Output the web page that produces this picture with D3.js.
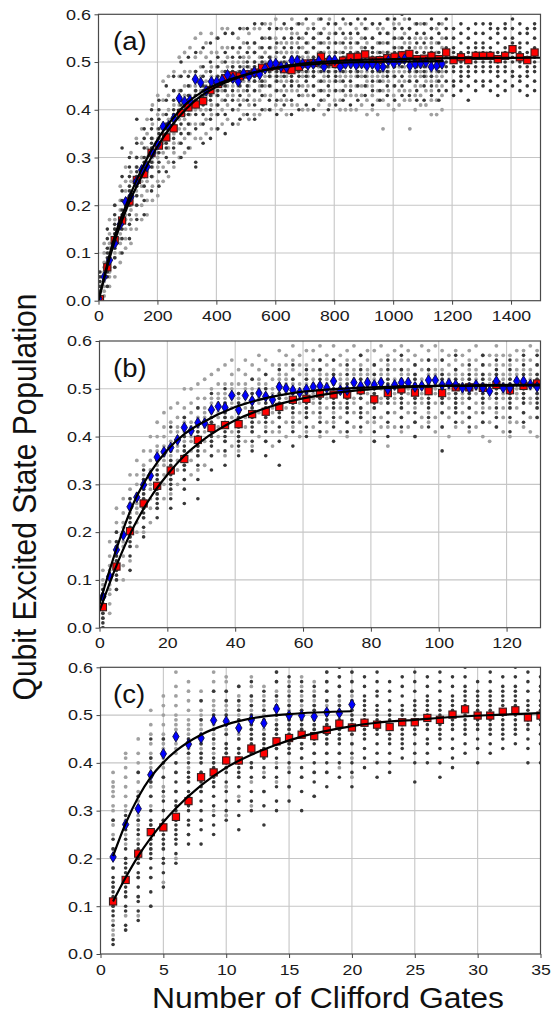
<!DOCTYPE html>
<html>
<head>
<meta charset="utf-8">
<script src="https://cdn.jsdelivr.net/npm/d3@7"></script>
<style>
  body { margin: 0; background: #fff; }
</style>
</head>
<body>
<div id="chart"></div>
<script>
// ---------- data ----------
// y values of the averaged points; x positions are the sequence lengths
const yTicks = [0, 0.1, 0.2, 0.3, 0.4, 0.5, 0.6];

// panel (a)
const aXTicks = [0, 200, 400, 600, 800, 1000, 1200, 1400];
const aRedX = d3.range(5, 1500, 25);
const aRed = [0.003, 0.070, 0.127, 0.168, 0.208, 0.253, 0.265, 0.310, 0.325, 0.342,
  0.361, 0.393, 0.405, 0.411, 0.418, 0.441, 0.454, 0.466, 0.472, 0.470,
  0.474, 0.478, 0.488, 0.490, 0.492, 0.485, 0.483, 0.490, 0.497, 0.498,
  0.511, 0.500, 0.496, 0.503, 0.510, 0.511, 0.516, 0.503, 0.504, 0.508,
  0.511, 0.514, 0.517, 0.506, 0.507, 0.513, 0.506, 0.520, 0.504, 0.510,
  0.504, 0.513, 0.513, 0.513, 0.506, 0.513, 0.527, 0.510, 0.504, 0.520];
const aBlueX = d3.range(65).map(k => 1 + 18.2 * k);
const aBlue = [0.005, 0.050, 0.085, 0.120, 0.160, 0.207, 0.218, 0.249, 0.274, 0.281,
  0.310, 0.328, 0.365, 0.366, 0.382, 0.424, 0.417, 0.420, 0.464, 0.457,
  0.440, 0.459, 0.459, 0.462, 0.473, 0.466, 0.459, 0.476, 0.471, 0.479,
  0.474, 0.486, 0.496, 0.497, 0.490, 0.489, 0.503, 0.503, 0.496, 0.494,
  0.496, 0.502, 0.490, 0.504, 0.504, 0.490, 0.496, 0.497, 0.494, 0.497,
  0.492, 0.496, 0.490, 0.490, 0.503, 0.497, 0.502, 0.506, 0.492, 0.496,
  0.497, 0.4995, 0.490, 0.492, 0.496];
const aRedFitX = [0, 25, 50, 100, 150, 200, 250, 300, 350, 400, 500, 600, 700, 800, 1000, 1200, 1500];
const aRedFitY = [0, 0.06, 0.115, 0.2, 0.265, 0.323, 0.368, 0.403, 0.43, 0.448, 0.473, 0.488, 0.497, 0.502, 0.506, 0.508, 0.509];
const aBlueFitX = [0, 25, 50, 100, 150, 200, 250, 300, 350, 400, 500, 600, 700, 800, 1000, 1170];
const aBlueFitY = [0, 0.065, 0.125, 0.21, 0.28, 0.337, 0.38, 0.414, 0.437, 0.453, 0.474, 0.487, 0.494, 0.498, 0.501, 0.502];
// single sequences, in hundredths, one string per column
const aDark = [
  "0 1 2 3 4 5 6", "3 5 6 7 8 9 10 11 13 15", "7 9 11 12 13 14 15 16 18 20",
  "10 13 15 16 17 18 19 21 23 26 32", "13 16 18 20 21 22 23 24 26 28 30",
  "17 20 22 24 25 26 27 28 30 33 38", "18 21 24 26 27 28 29 30 32 34 36",
  "23 26 28 29 31 32 33 34 36 38 40", "24 27 29 31 33 34 35 36 38 40 42",
  "27 30 32 33 34 35 36 37 39 42 45", "29 32 34 36 37 38 39 40 42 44 47",
  "30 33 35 37 39 40 41 42 44 47 50", "32 35 37 39 40 41 42 43 45 47 51",
  "28 29 36 39 41 42 43 44 46 48 52", "33 37 39 41 42 43 44 45 47 49 53",
  "34 38 40 42 43 44 45 46 48 50 54", "36 39 41 43 44 45 46 47 49 51 55",
  "35 39 42 44 45 46 47 48 50 52 56", "37 40 42 44 46 47 48 49 51 53 56",
  "38 41 43 45 46 47 48 49 51 53 57", "39 42 44 45 47 48 49 50 52 54 57",
  "38 41 44 46 47 48 49 50 52 54 58", "40 43 45 46 48 49 50 51 53 55 58",
  "40 42 45 47 48 49 50 51 53 55 57", "39 42 44 46 47 48 49 50 52 54 57",
  "41 43 45 47 48 49 50 51 53 55 58", "39 42 45 46 47 48 49 51 53 55 57",
  "40 43 45 47 48 49 50 51 53 55 58", "41 44 46 47 48 49 50 52 54 56 59",
  "40 43 45 47 48 49 50 51 53 55 57", "42 44 46 48 49 50 51 52 54 56 59",
  "40 43 45 47 48 49 50 51 53 55 58", "41 44 46 47 48 49 50 52 54 56 58",
  "42 44 46 48 49 50 51 52 54 56 59", "41 44 46 48 49 50 51 52 54 56 58",
  "42 45 47 48 49 50 51 52 54 56 59", "43 45 47 49 50 51 52 53 55 57 59",
  "41 44 46 48 49 50 51 52 53 55 58", "42 44 46 48 49 50 51 52 54 56 58",
  "43 45 47 48 49 50 51 52 54 56 59", "42 45 47 49 50 51 52 53 55 57 59",
  "43 45 47 49 50 51 52 53 55 57 60", "43 46 48 49 50 51 52 53 55 57 59",
  "42 44 46 48 49 50 51 52 54 56 58", "42 45 47 48 49 50 51 52 54 56 58",
  "43 45 47 49 50 51 52 53 55 57 59", "42 44 46 48 49 50 51 52 54 56 58",
  "44 46 48 49 50 51 52 53 55 57 59", "43 45 46 48 49 50 51 52 53 55 57",
  "44 46 47 48 49 50 51 52 54 56 58", "42 45 47 48 49 50 51 52 53 55 57",
  "44 46 48 49 50 51 52 53 54 56 58", "45 46 48 49 50 51 52 53 54 56 58",
  "44 46 48 49 50 51 52 53 55 57 58", "43 45 47 48 49 50 51 52 54 56 57",
  "44 46 48 49 50 51 52 53 55 57 58", "45 47 48 50 51 52 53 54 55 57 59",
  "44 46 47 49 50 51 52 53 54 56 58", "43 45 47 48 49 50 51 52 54 56 57",
  "44 46 48 49 50 51 52 53 55 57 58"];
const aLight = [
  "0 1 2 3 4 5 6", "1 2 3 4 5 6 7 8 10 12", "3 5 6 7 8 9 10 11 12 14 17",
  "5 7 9 10 11 12 13 14 15 17 20", "8 10 12 13 14 15 16 17 19 21 24",
  "11 13 15 17 18 19 20 21 23 25 28", "12 15 17 19 20 21 22 23 25 27 31",
  "15 18 20 22 23 24 25 26 28 30 34", "17 20 22 24 25 26 27 28 30 33 36",
  "18 21 23 25 27 28 29 30 32 35 38", "21 24 26 28 29 30 31 32 34 37 41",
  "22 25 28 30 31 32 33 34 36 39 43", "25 28 31 33 34 35 36 37 39 42 46",
  "26 29 32 34 35 36 37 38 40 43 47", "28 31 33 35 36 37 38 39 41 44 48",
  "30 33 36 38 39 40 41 42 44 47 51", "31 34 36 38 39 40 41 43 45 48 52",
  "32 35 37 39 40 41 42 43 45 48 53", "34 37 40 42 43 44 45 46 48 51 55",
  "34 37 40 42 43 44 45 47 49 52 56", "35 38 40 42 43 44 45 46 48 51 54",
  "36 39 41 43 44 45 46 47 49 52 56", "36 39 41 43 44 45 46 47 49 52 55",
  "37 40 42 44 45 46 47 48 50 53 57", "38 41 43 45 46 47 48 49 51 53 57",
  "37 40 43 45 46 47 48 49 50 53 56", "37 40 42 44 45 46 47 48 50 52 55",
  "39 42 44 46 47 48 49 50 51 54 57", "38 41 43 45 46 47 48 49 51 53 56",
  "39 42 44 46 47 48 49 50 52 54 57", "39 42 44 45 46 47 48 49 51 53 57",
  "40 43 45 46 47 48 49 50 52 55 58",
  "40 43 45 47 48 49 50 51 53 55 58", "41 44 46 47 48 49 50 51 53 55 59",
  "40 42 44 46 47 48 49 50 52 54 57", "39 42 44 46 47 48 49 50 52 54 57",
  "41 44 46 48 49 50 51 52 54 56 59", "41 44 46 48 49 50 51 52 54 56 58",
  "40 43 45 47 48 49 50 51 53 55 58", "40 43 45 47 48 49 50 51 52 54 57",
  "40 43 45 47 48 49 50 51 53 55 58", "41 44 46 48 49 50 51 52 54 56 59",
  "39 42 44 46 47 48 49 50 52 54 57", "41 44 46 48 49 50 51 52 54 56 59",
  "42 44 46 48 49 50 51 52 54 56 58", "40 42 44 46 47 48 49 50 52 54 57",
  "40 43 45 47 48 49 50 51 53 55 58", "40 43 45 47 48 49 50 51 53 55 58",
  "40 43 45 47 48 49 50 51 52 54 57", "41 43 45 47 48 49 50 51 53 55 58",
  "39 42 45 46 47 48 49 50 52 54 57", "40 43 45 47 48 49 50 51 53 55 58",
  "39 42 44 46 47 48 49 50 52 54 57", "36 42 44 46 47 48 49 50 52 54 57",
  "41 44 46 48 49 50 51 52 54 56 59", "40 43 45 47 48 49 50 51 53 55 58",
  "41 44 46 48 49 50 51 52 53 55 58", "42 44 46 48 49 50 51 52 54 56 59",
  "36 42 44 46 47 48 49 50 52 54 57", "40 43 45 47 48 49 50 51 53 55 58",
  "41 43 45 47 48 49 50 51 53 55 58", "41 44 46 47 48 49 50 51 53 55 58",
  "39 42 44 46 47 48 49 50 52 54 57", "39 42 45 46 47 48 49 50 52 54 57",
  "40 43 45 47 48 49 50 51 53 55 58"];

// panel (b)
const bXTicks = [0, 20, 40, 60, 80, 100, 120];
const bRedX = d3.range(1, 130, 4);
const bRed = [0.043, 0.128, 0.202, 0.260, 0.297, 0.329, 0.353, 0.393, 0.418, 0.424,
  0.426, 0.447, 0.452, 0.462, 0.477, 0.479, 0.490, 0.488, 0.488, 0.497,
  0.478, 0.491, 0.499, 0.492, 0.495, 0.491, 0.503, 0.503, 0.502, 0.508,
  0.497, 0.506, 0.511];
const bBlueX = d3.range(1, 130, 2);
const bBlue = [0.065, 0.107, 0.163, 0.194, 0.253, 0.273, 0.299, 0.318, 0.357, 0.368,
  0.377, 0.393, 0.419, 0.412, 0.429, 0.428, 0.456, 0.463, 0.461, 0.486,
  0.456, 0.486, 0.475, 0.491, 0.484, 0.477, 0.504, 0.501, 0.497, 0.492,
  0.499, 0.504, 0.506, 0.502, 0.516, 0.497, 0.497, 0.513, 0.506, 0.513,
  0.508, 0.513, 0.499, 0.508, 0.513, 0.513, 0.504, 0.506, 0.518, 0.518,
  0.508, 0.511, 0.508, 0.502, 0.502, 0.508, 0.502, 0.495, 0.516, 0.502,
  0.502, 0.516, 0.516, 0.509, 0.504];
const bFitX = [0, 5, 10, 15, 20, 25, 30, 40, 50, 60, 70, 80, 100, 130];
const bRedFitY = [0.035, 0.13, 0.21, 0.272, 0.32, 0.36, 0.39, 0.434, 0.462, 0.48, 0.492, 0.499, 0.506, 0.509];
const bBlueFitY = [0.05, 0.165, 0.26, 0.325, 0.372, 0.405, 0.428, 0.462, 0.482, 0.494, 0.5, 0.503, 0.506, 0.507];
const bDark = [
  "0 1 2 3 4 5 6 7 8", "8 10 11 12 13 14 15 16 17 18 20", "12 15 17 18 19 20 21 22 23 25 27",
  "19 21 23 24 25 26 27 28 29 31 33", "23 25 26 27 28 29 30 31 32 33 35",
  "25 27 29 30 31 32 33 34 35 37 42", "26 29 31 33 34 35 36 37 38 40 44",
  "27 31 34 36 37 38 39 40 41 43 46", "33 36 38 39 40 41 42 43 44 46 49",
  "34 37 39 40 41 42 43 44 45 47 50", "36 38 39 40 41 42 43 44 45 47 49",
  "37 39 41 42 43 44 45 46 47 49 52", "36 39 41 43 44 45 46 47 48 50 53",
  "34 39 42 44 45 46 47 48 49 51 54", "38 41 43 45 46 47 48 49 50 52 55",
  "40 42 44 45 46 47 48 49 50 52 54", "41 43 45 47 48 49 50 51 52 54 56",
  "39 42 44 46 47 48 49 50 51 53 56", "41 43 45 46 47 48 49 50 51 53 55",
  "42 44 45 46 48 49 50 51 52 54 57", "39 41 44 46 47 48 49 50 51 53 55",
  "40 43 45 47 48 49 50 51 52 54 56", "42 44 46 47 48 49 50 51 52 54 57",
  "40 43 45 47 48 49 50 51 52 53 55", "42 44 46 47 48 49 50 51 52 54 56",
  "37 42 45 47 48 49 50 51 52 53 56", "43 45 46 47 48 49 50 51 52 54 57",
  "42 44 46 48 49 50 51 52 53 55", "43 45 47 48 49 50 51 52 53 55 57",
  "42 44 46 48 49 50 51 52 53 54 56", "41 44 46 47 48 49 50 51 52 54 56",
  "43 45 47 48 49 50 51 52 53 55 57", "44 46 47 48 49 50 51 52 53 55 57"];
const bLight = [
  "0 2 3 4 5 6 7 8 9 10 12", "3 5 7 8 9 10 11 12 13 15 18", "8 10 12 14 15 16 17 18 20 22 25",
  "10 13 15 17 18 19 20 21 22 24 27", "14 17 19 21 23 24 25 26 27 29 32",
  "17 20 22 24 25 26 27 28 30 32 35", "20 23 25 27 28 29 30 31 32 34 37",
  "22 25 27 29 30 31 32 33 35 37 40", "25 28 30 32 34 35 36 37 38 40 43",
  "27 30 32 34 35 36 37 38 40 42 45", "28 31 33 35 36 37 38 39 41 43 46",
  "30 33 35 37 38 39 40 41 42 44 47", "31 34 37 39 40 41 42 43 44 46 50",
  "32 35 37 39 40 41 42 43 45 47 50", "33 36 38 40 41 42 43 44 46 48 51",
  "34 37 39 41 42 43 44 45 46 48 52", "36 39 41 43 44 45 46 47 48 50 53",
  "37 40 42 44 45 46 47 48 49 51 54", "36 39 42 44 45 46 47 48 49 51 55",
  "38 41 44 46 47 48 49 50 51 53 56", "37 40 42 44 45 46 47 48 49 51 54",
  "39 42 44 46 47 48 49 50 51 53 56", "38 41 43 45 46 47 48 49 50 52 55",
  "40 43 45 47 48 49 50 51 52 54 57", "39 42 44 46 47 48 49 50 51 53 56",
  "38 41 43 45 46 47 48 49 50 52 55",
  "41 44 46 48 49 50 51 52 53 55 58", "40 43 46 48 49 50 51 52 53 55 57",
  "42 44 46 47 49 50 51 52 54 56 59", "40 43 45 47 48 49 50 51 53 55 57",
  "41 44 46 48 49 50 51 52 53 55 58", "42 45 47 48 49 50 51 52 54 56 58",
  "40 44 46 48 49 50 51 53 54 56 59", "41 43 46 48 49 50 51 52 53 55 57",
  "43 45 47 49 50 51 52 53 54 56 59", "41 44 46 47 49 50 51 52 53 55 57",
  "40 43 46 48 49 50 51 52 54 56 58", "42 45 47 48 50 51 52 53 54 56 59",
  "41 44 46 48 49 50 51 52 53 55 57", "43 45 47 49 50 51 52 53 54 56 58",
  "39 43 46 48 49 50 51 52 53 55 58", "42 44 47 48 50 51 52 53 54 56 59",
  "38 42 45 47 49 50 51 52 53 55 57", "42 45 47 48 49 50 51 52 54 56 58",
  "41 44 46 48 50 51 52 53 54 56 59", "42 45 47 49 50 51 52 53 54 56 58",
  "40 43 46 48 49 50 51 52 53 55 57", "42 44 47 48 49 50 51 52 54 56 59",
  "43 45 47 49 50 51 52 53 54 56 58", "41 44 47 49 50 51 52 53 54 56 59",
  "42 45 47 48 50 51 52 53 54 56 58", "40 44 46 48 49 50 51 52 53 55 57",
  "42 45 47 49 50 51 52 53 54 56 58", "43 45 47 48 49 50 51 52 53 55 57",
  "41 44 46 48 49 50 51 52 54 56 58", "42 45 47 49 50 51 52 53 54 56 59",
  "40 43 46 48 49 50 51 52 53 55 57", "39 43 46 48 49 50 51 52 53 55 57",
  "42 45 47 49 50 51 52 53 55 57 59", "41 44 46 48 49 50 51 52 53 55 57",
  "40 43 46 48 49 50 51 52 53 55 57", "43 46 48 49 50 51 52 53 54 56 58",
  "42 45 47 49 50 51 52 53 54 56 58", "41 44 47 48 50 51 52 53 54 56 59",
  "40 44 46 48 49 50 51 52 53 55 58"];

// panel (c)
const cXTicks = [0, 5, 10, 15, 20, 25, 30, 35];
const cRedX = d3.range(1, 36);
const cRed = [0.110, 0.155, 0.210, 0.255, 0.265, 0.287, 0.320, 0.370, 0.380, 0.405,
  0.405, 0.430, 0.420, 0.445, 0.452, 0.459, 0.456, 0.469, 0.482, 0.474,
  0.484, 0.480, 0.475, 0.485, 0.485, 0.494, 0.490, 0.501, 0.512, 0.499,
  0.499, 0.507, 0.510, 0.495, 0.499];
const cBlueX = d3.range(1, 21);
const cBlue = [0.203, 0.271, 0.304, 0.375, 0.419, 0.455, 0.439, 0.452, 0.489, 0.487,
  0.473, 0.490, 0.483, 0.513, 0.499, 0.499, 0.497, 0.506, 0.504, 0.522];
const cRedFitX = [1, 2, 3, 4, 5, 6, 8, 10, 12, 14, 16, 18, 20, 22, 25, 28, 31, 35];
const cRedFitY = [0.11, 0.16, 0.205, 0.243, 0.276, 0.305, 0.353, 0.39, 0.417, 0.438, 0.455, 0.467, 0.477, 0.484, 0.49, 0.496, 0.5, 0.504];
const cBlueFitX = [1, 2, 3, 4, 5, 6, 8, 10, 12, 15, 20];
const cBlueFitY = [0.205, 0.273, 0.328, 0.37, 0.401, 0.425, 0.459, 0.48, 0.493, 0.502, 0.508];
const cDark = [
  "2 3 6 8 9 10 11 12 13 14 15 16 18 20 22 24 28", "5 6 9 10 12 13 14 15 16 17 18 19 20 22 24 26 29",
  "7 9 11 12 14 16 17 19 20 21 22 23 25 26 28 33 38", "10 13 16 18 20 21 22 23 24 25 26 27 28 30 33 36 41 45",
  "14 17 19 20 22 23 24 25 26 27 28 30 32 34 37 40 45", "19 21 23 24 25 26 27 28 29 30 31 32 34 36 38 40",
  "23 25 27 28 30 31 32 33 34 36 37 38 40 42 45", "23 26 28 30 32 34 35 36 37 38 40 41 42 44 46 49 53",
  "25 27 29 31 33 35 36 37 38 39 40 41 43 45 47 50 55", "28 30 32 34 36 38 39 40 41 42 43 44 46 48 50 53 55",
  "26 29 32 35 37 38 39 40 41 42 43 45 47 49 51 53 56", "30 32 34 37 39 40 42 43 44 45 46 47 48 50 52 54 57",
  "27 31 34 37 39 41 42 43 44 45 46 48 49 51 53 55", "30 32 35 37 39 41 43 44 45 46 47 48 50 52 54 57 59",
  "32 35 38 40 42 43 44 45 46 47 48 49 50 52 54 56 58", "30 34 37 39 41 43 44 46 47 48 49 50 51 53 55 57",
  "33 36 38 40 42 44 45 46 47 48 49 51 52 54 56", "35 38 40 42 44 45 46 47 48 49 50 51 53 55 57 59",
  "37 40 42 44 45 46 47 48 49 50 51 52 54 56 58 60", "35 38 40 42 44 46 47 48 49 50 51 52 53 55 57 59",
  "39 41 43 45 46 47 48 49 50 51 52 53 54 56 58", "37 40 42 44 46 47 48 49 50 51 52 54 55 57 59",
  "38 40 42 44 45 46 47 48 49 50 51 53 55 57", "41 43 44 45 46 47 48 49 50 51 52 54 56 58",
  "36 40 42 44 46 47 48 49 50 51 52 53 55 57 59", "40 42 44 45 47 48 49 50 51 52 53 54 56 58",
  "37 40 43 45 46 47 48 49 50 51 52 53 55 57 59", "39 41 43 45 47 48 49 50 51 52 53 54 56 58",
  "42 44 46 47 48 49 50 51 52 53 54 55 56 58 60", "40 43 45 47 48 49 50 51 52 53 54 55 57",
  "42 44 46 47 48 49 50 51 52 53 54 55 57 59", "43 45 46 47 48 49 50 51 52 53 54 55 56 58",
  "44 46 47 48 49 50 51 52 53 54 55 56 58 60", "40 43 45 47 48 49 50 51 52 53 55 57 59",
  "40 44 46 48 49 50 51 52 53 55 56 58"];
const cLight = [
  "4 5 7 10 14 18 22 25 27 28 30 31 33 34 35 36 38", "5 8 12 16 20 23 25 27 28 30 31 33 35 37 39 41 42",
  "8 12 16 20 24 27 28 29 30 31 32 33 34 36 38 40 42 45", "10 16 22 27 31 33 35 36 37 38 39 40 41 42 44 46 48 51",
  "15 22 28 33 35 37 39 40 41 42 43 44 45 46 48 50 52 54", "20 28 34 38 40 42 43 44 45 46 47 48 49 50 52 54 56 59",
  "25 32 36 39 41 42 43 44 45 46 47 48 49 51 53 55 57", "28 34 38 40 42 43 44 45 46 47 48 49 50 51 53 55",
  "30 36 40 42 44 45 46 47 48 49 50 51 52 53 55 57 59", "29 35 39 42 44 46 47 48 49 50 51 52 53 55 57 58",
  "33 37 40 43 45 46 47 48 49 50 51 52 53 54 56", "31 36 40 43 45 47 48 49 50 51 52 53 54 56 58",
  "34 38 41 43 45 46 47 48 49 50 51 52 54 56", "36 40 43 45 47 48 49 50 51 52 53 54 55 57 59",
  "35 39 42 44 46 47 48 49 50 51 52 53 55 57", "37 41 44 46 47 48 49 50 51 52 53 54 56 58",
  "33 38 42 45 47 48 49 50 51 52 53 54 55 57", "38 42 44 46 47 48 49 50 51 52 53 55 57 59",
  "39 42 45 47 48 49 50 51 52 53 54 56 58", "37 41 44 46 48 49 50 51 52 53 54 55 57 59"];

// ---------- drawing ----------
const W = 551, H = 1013;
const FONT = '"Liberation Sans", Arial, Helvetica, sans-serif';
const toVals = s => s.split(" ").map(v => +v / 100);
const zip = (xs, ys) => xs.map((d, i) => [d, ys[i]]);

const svg = d3.select("#chart").append("svg")
  .attr("width", W).attr("height", H)
  .attr("font-family", FONT);
svg.append("rect").attr("width", W).attr("height", H).attr("fill", "#fff");

const panels = [
  { label: "(a)", left: 98.5, right: 540.5, top: 14.3, bottom: 300.7, xMax: 1500, xTicks: aXTicks,
    redX: aRedX, red: aRed, blueX: aBlueX, blue: aBlue, dark: aDark, light: aLight,
    redFit: zip(aRedFitX, aRedFitY), blueFit: zip(aBlueFitX, aBlueFitY) },
  { label: "(b)", left: 99.5, right: 540.5, top: 341, bottom: 627.7, xMax: 130, xTicks: bXTicks,
    redX: bRedX, red: bRed, blueX: bBlueX, blue: bBlue, dark: bDark, light: bLight,
    redFit: zip(bFitX, bRedFitY), blueFit: zip(bFitX, bBlueFitY) },
  { label: "(c)", left: 100.5, right: 540.5, top: 667.3, bottom: 954, xMax: 35, xTicks: cXTicks,
    redX: cRedX, red: cRed, blueX: cBlueX, blue: cBlue, dark: cDark, light: cLight,
    redFit: zip(cRedFitX, cRedFitY), blueFit: zip(cBlueFitX, cBlueFitY) }
];

panels.forEach((p, idx) => {
  const x = d3.scaleLinear().domain([0, p.xMax]).range([p.left, p.right]);
  const y = d3.scaleLinear().domain([0, 0.6]).range([p.bottom, p.top]);
  const g = svg.append("g");

  const clipId = "clip" + idx;
  g.append("clipPath").attr("id", clipId).append("rect")
    .attr("x", p.left).attr("y", p.top)
    .attr("width", p.right - p.left).attr("height", p.bottom - p.top);

  // grid lines
  g.append("g").selectAll("line").data(p.xTicks.filter(d => d > 0 && d < p.xMax)).join("line")
    .attr("x1", d => x(d)).attr("x2", d => x(d))
    .attr("y1", p.top).attr("y2", p.bottom)
    .attr("stroke", "#c6c6c6").attr("stroke-width", 1.1);
  g.append("g").selectAll("line").data(yTicks.slice(1, -1)).join("line")
    .attr("x1", p.left).attr("x2", p.right)
    .attr("y1", d => y(d)).attr("y2", d => y(d))
    .attr("stroke", "#c6c6c6").attr("stroke-width", 1.1);

  const plot = g.append("g").attr("clip-path", `url(#${clipId})`);

  // single-sequence dots: light = blue set, dark = red set
  const dots = [];
  p.light.forEach((s, i) => toVals(s).forEach(v => dots.push([p.blueX[i], v, 0])));
  p.dark.forEach((s, i) => toVals(s).forEach(v => dots.push([p.redX[i], v, 1])));
  plot.append("g").selectAll("circle").data(dots).join("circle")
    .attr("cx", d => x(d[0])).attr("cy", d => y(d[1]))
    .attr("r", d => d[2] ? 1.8 : 1.9)
    .attr("fill", d => d[2] ? "#383838" : "#a0a0a0");

  // averaged points
  const sq = 7.2;
  plot.append("g").selectAll("rect").data(zip(p.redX, p.red)).join("rect")
    .attr("x", d => x(d[0]) - sq / 2).attr("y", d => y(d[1]) - sq / 2)
    .attr("width", sq).attr("height", sq)
    .attr("fill", "#ff0000").attr("stroke", "#3a1c1c").attr("stroke-width", 1.1);

  const dw = 3.2, dh = 5.4;
  plot.append("g").selectAll("path").data(zip(p.blueX, p.blue)).join("path")
    .attr("d", `M0,${-dh}L${dw},0L0,${dh}L${-dw},0Z`)
    .attr("transform", d => `translate(${x(d[0])},${y(d[1])})`)
    .attr("fill", "#0000ff").attr("stroke", "#101040").attr("stroke-width", 0.9);

  // fit curves
  const line = d3.line().x(d => x(d[0])).y(d => y(d[1])).curve(d3.curveMonotoneX);
  [p.redFit, p.blueFit].forEach(f => {
    plot.append("path").datum(f).attr("d", line)
      .attr("fill", "none").attr("stroke", "#000").attr("stroke-width", 2.2);
  });

  // frame
  g.append("rect")
    .attr("x", p.left).attr("y", p.top)
    .attr("width", p.right - p.left).attr("height", p.bottom - p.top)
    .attr("fill", "none").attr("stroke", "#4a4a4a").attr("stroke-width", 1.2);

  // axes
  const yAxis = g.append("g").attr("transform", `translate(${p.left},0)`)
    .call(d3.axisLeft(y).tickValues(yTicks).tickFormat(d3.format(".1f")).tickSize(4).tickPadding(4));
  yAxis.select(".domain").remove();
  yAxis.attr("font-family", FONT).attr("font-size", 15);
  yAxis.selectAll("line").attr("stroke", "#444");
  yAxis.selectAll("text").attr("x", -6.3).attr("transform", "scale(1.2,1)").attr("fill", "#1a1a1a");

  const xAxis = g.append("g").attr("transform", `translate(0,${p.bottom})`)
    .call(d3.axisBottom(x).tickValues(p.xTicks).tickFormat(d3.format("d")).tickSize(4).tickPadding(6));
  xAxis.select(".domain").remove();
  xAxis.attr("font-family", FONT).attr("font-size", 15);
  xAxis.selectAll("line").attr("stroke", "#444");
  xAxis.selectAll("text").attr("transform", "scale(1.18,1)").attr("fill", "#1a1a1a");

  // panel label
  g.append("text")
    .attr("transform", `translate(113,${p.top + 35.5}) scale(1.1,1)`)
    .attr("font-size", 25).attr("fill", "#111")
    .text(p.label);
});

// axis titles
svg.append("text")
  .attr("transform", "translate(36,497) scale(1.08,1) rotate(-90)")
  .attr("text-anchor", "middle").attr("font-size", 30).attr("fill", "#111")
  .text("Qubit Excited State Population");

svg.append("text")
  .attr("transform", "translate(328,1008) scale(1.1,1)")
  .attr("text-anchor", "middle").attr("font-size", 29).attr("fill", "#111")
  .text("Number of Clifford Gates");
</script>
</body>
</html>
